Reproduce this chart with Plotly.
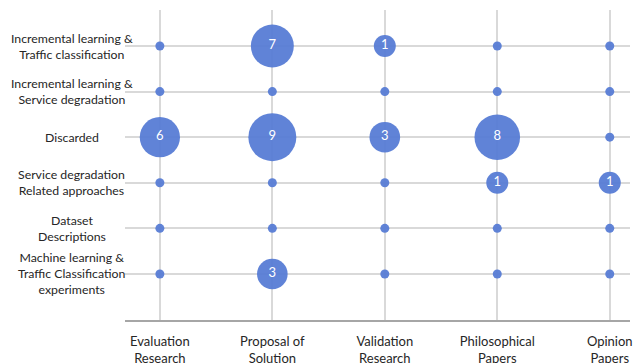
import numpy as np
import plotly.graph_objects as go

# Research type (columns) and topic (rows, listed top to bottom)
research_types = ["Evaluation<br>Research", "Proposal of<br>Solution", "Validation<br>Research",
                  "Philosophical<br>Papers", "Opinion<br>Papers"]
topics = [
    "Incremental learning &<br>Traffic classification",
    "Incremental learning &<br>Service degradation",
    "Discarded",
    "Service degradation<br>Related approaches",
    "Dataset<br>Descriptions",
    "Machine learning &<br>Traffic Classification<br>experiments",
]
# Paper counts per topic row, one value per research type
counts_incr_traffic = [0, 7, 1, 0, 0]
counts_incr_service = [0, 0, 0, 0, 0]
counts_discarded = [6, 9, 3, 8, 0]
counts_service_related = [0, 0, 0, 1, 1]
counts_dataset = [0, 0, 0, 0, 0]
counts_ml_traffic = [0, 3, 0, 0, 0]

rows = [counts_incr_traffic, counts_incr_service, counts_discarded,
        counts_service_related, counts_dataset, counts_ml_traffic]

n_rows = len(topics)
xs, ys, vals = [], [], []
for r, row in enumerate(rows):
    yval = n_rows - 1 - r
    for c, v in enumerate(row):
        xs.append(c)
        ys.append(yval)
        vals.append(v)
vals = np.array(vals)

# bubble area grows linearly with the count; empty cells get a small dot
diam = np.where(vals > 0, np.sqrt(257 + 227 * vals), 9)
labels = [str(v) if v > 0 else "" for v in vals]

fig = go.Figure()
fig.add_trace(go.Scatter(
    x=xs, y=ys, mode="markers+text",
    marker=dict(size=diam, color="rgb(84,122,212)", opacity=0.93, line=dict(width=0)),
    text=labels, textposition="middle center",
    textfont=dict(family="Lato", size=13, color="white"),
    hoverinfo="skip", showlegend=False,
))

for r, name in enumerate(topics):
    fig.add_annotation(
        x=-0.105, xref="paper", y=n_rows - 1 - r, yref="y",
        text=name, showarrow=False, xanchor="center", yanchor="middle", align="center",
        font=dict(family="Lato", size=12.3, color="#262626"),
    )

fig.update_layout(
    width=636, height=363,
    margin=dict(l=125, r=6, t=10, b=43, autoexpand=False),
    paper_bgcolor="white", plot_bgcolor="white",
    xaxis=dict(
        range=[-0.31, 4.18], tickvals=list(range(len(research_types))), ticktext=research_types,
        showgrid=True, gridcolor="#D9D9D9", gridwidth=1.5, zeroline=False,
        showline=True, linecolor="#A6A6A6", linewidth=2,
        ticks="outside", ticklen=8, tickcolor="rgba(0,0,0,0)",
        tickfont=dict(family="Lato", size=13, color="#262626"),
        automargin=False,
    ),
    yaxis=dict(
        range=[-1.01, 5.79], tickvals=list(range(n_rows)), showticklabels=False,
        showgrid=True, gridcolor="#D9D9D9", gridwidth=1.5, zeroline=False, showline=False,
        automargin=False,
    ),
)

fig.write_html("out.html")
